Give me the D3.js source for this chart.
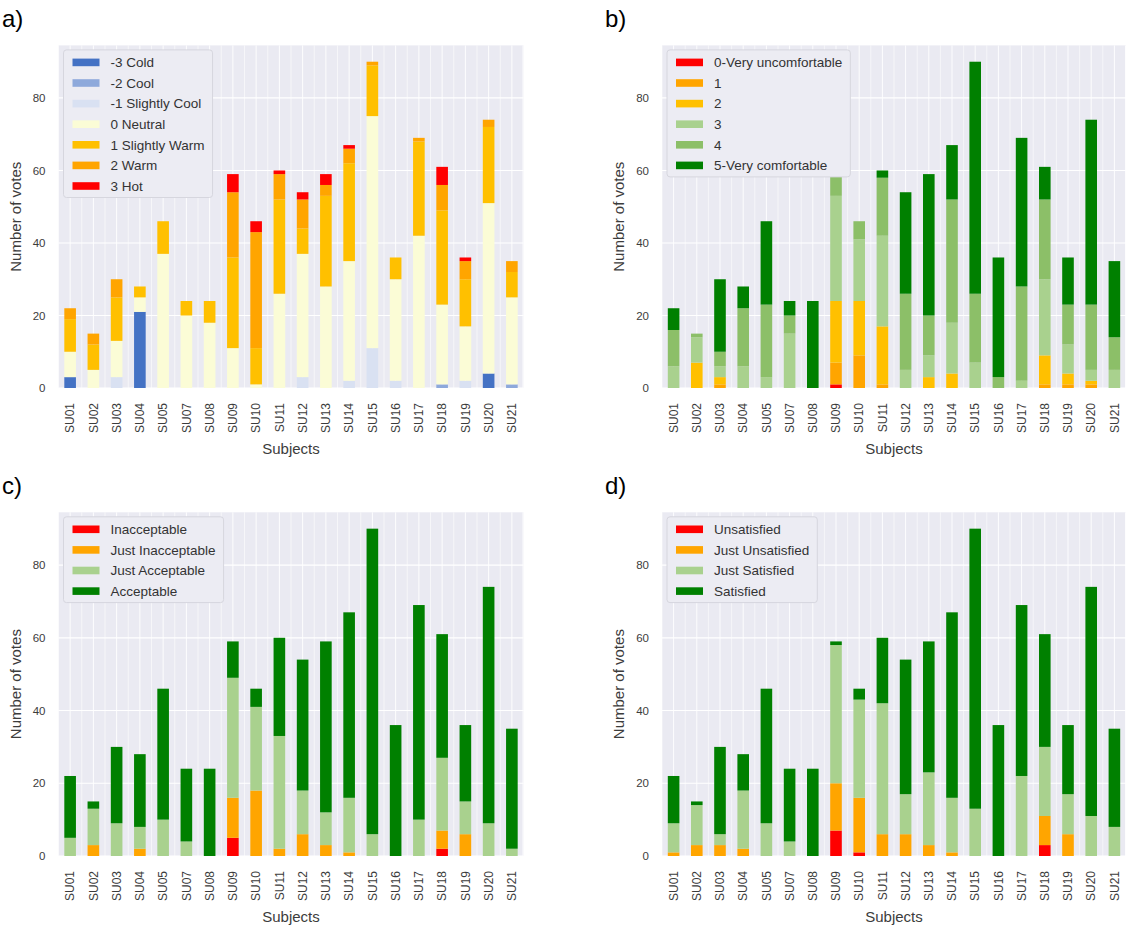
<!DOCTYPE html>
<html>
<head>
<meta charset="utf-8">
<script src="https://cdn.jsdelivr.net/npm/d3@7"></script>
<style>
  body { margin: 0; background: #fff; }
  text { font-family: "Liberation Sans", Arial, sans-serif; }
</style>
</head>
<body>
<svg id="fig" width="1126" height="927"></svg>
<script>
// ---- data ----
const subjects = ["SU01","SU02","SU03","SU04","SU05","SU07","SU08","SU09","SU10","SU11",
                  "SU12","SU13","SU14","SU15","SU16","SU17","SU18","SU19","SU20","SU21"];
const yTicks = [0, 20, 40, 60, 80];

// a) thermal sensation votes
const tsCold      = [3,0,0,21,0,0,0,0,0,0, 0,0,0,0,0,0,0,0,4,0];
const tsCool      = [0,0,0,0,0,0,0,0,0,0, 0,0,0,0,0,0,1,0,0,1];
const tsSlCool    = [0,0,3,0,0,0,0,0,0,0, 3,0,2,11,2,0,0,2,0,0];
const tsNeutral   = [7,5,10,4,37,20,18,11,1,26, 34,28,33,64,28,42,22,15,47,24];
const tsSlWarm    = [9,7,12,3,9,4,6,25,10,26, 7,25,27,14,6,26,26,13,21,7];
const tsWarm      = [3,3,5,0,0,0,0,18,32,7, 8,3,4,1,0,1,7,5,2,3];
const tsHot       = [0,0,0,0,0,0,0,5,3,1, 2,3,1,0,0,0,5,1,0,0];
const tsLabels    = ["-3 Cold","-2 Cool","-1 Slightly Cool","0 Neutral","1 Slightly Warm","2 Warm","3 Hot"];

// b) thermal comfort votes
const tc0 = [0,0,0,0,0,0,0,1,0,0, 0,0,0,0,0,0,0,0,0,0];
const tc1 = [0,0,1,0,0,0,0,6,9,1, 0,0,0,0,0,0,1,1,1,0];
const tc2 = [0,7,2,0,0,0,0,17,15,16, 0,3,4,0,0,0,8,3,1,0];
const tc3 = [6,7,3,6,3,15,0,29,17,25, 5,6,14,7,0,2,21,8,3,5];
const tc4 = [10,1,4,16,20,5,0,6,5,16, 21,11,34,19,3,26,22,11,18,9];
const tc5 = [6,0,20,6,23,4,24,0,0,2, 28,39,15,64,33,41,9,13,51,21];
const tcLabels = ["0-Very uncomfortable","1","2","3","4","5-Very comfortable"];

// c) thermal acceptability votes
const taInacc     = [0,0,0,0,0,0,0,5,0,0, 0,0,0,0,0,0,2,0,0,0];
const taJustInacc = [0,3,0,2,0,0,0,11,18,2, 6,3,1,0,0,0,5,6,0,0];
const taJustAcc   = [5,10,9,6,10,4,0,33,23,31, 12,9,15,6,0,10,20,9,9,2];
const taAcc       = [17,2,21,20,36,20,24,10,5,27, 36,47,51,84,36,59,34,21,65,33];
const taLabels = ["Inacceptable","Just Inacceptable","Just Acceptable","Acceptable"];

// d) thermal satisfaction votes
const tsatUns     = [0,0,0,0,0,0,0,7,1,0, 0,0,0,0,0,0,3,0,0,0];
const tsatJustUns = [1,3,3,2,0,0,0,13,15,6, 6,3,1,0,0,0,8,6,0,0];
const tsatJustSat = [8,11,3,16,9,4,0,38,27,36, 11,20,15,13,0,22,19,11,11,8];
const tsatSat     = [13,1,24,10,37,20,24,1,3,18, 37,36,51,77,36,47,31,19,63,27];
const tsatLabels = ["Unsatisfied","Just Unsatisfied","Just Satisfied","Satisfied"];

// ---- colours ----
const tsColors   = ["#4472C4","#8EA9DB","#D9E1F2","#FBFCD6","#FFC000","#FFA500","#FF0000"];
const tcColors   = ["#FF0000","#FFA500","#FFC000","#A9D18E","#8CBF68","#008000"];
const fourColors = ["#FF0000","#FFA500","#A9D18E","#008000"];

const panels = [
  { tag: "a)", series: [tsCold,tsCool,tsSlCool,tsNeutral,tsSlWarm,tsWarm,tsHot],
    labels: tsLabels, colors: tsColors, left: 58.5, right: 523.5, top: 45.4, bottom: 388 },
  { tag: "b)", series: [tc0,tc1,tc2,tc3,tc4,tc5],
    labels: tcLabels, colors: tcColors, left: 662, right: 1126, top: 45.4, bottom: 388 },
  { tag: "c)", series: [taInacc,taJustInacc,taJustAcc,taAcc],
    labels: taLabels, colors: fourColors, left: 58.5, right: 523.5, top: 512.3, bottom: 856 },
  { tag: "d)", series: [tsatUns,tsatJustUns,tsatJustSat,tsatSat],
    labels: tsatLabels, colors: fourColors, left: 662, right: 1126, top: 512.3, bottom: 856 }
];

const svg = d3.select("#fig");

function drawPanel(p) {
  const g = svg.append("g");

  // rows for d3.stack
  const keys = p.labels;
  const rows = subjects.map((s, i) => {
    const r = { subject: s };
    keys.forEach((k, j) => r[k] = p.series[j][i]);
    return r;
  });
  const stacked = d3.stack().keys(keys)(rows);
  const maxTotal = d3.max(rows, r => d3.sum(keys, k => r[k]));

  const x = d3.scaleBand().domain(subjects).range([p.left, p.right])
              .paddingInner(0.5).paddingOuter(0.25);
  const y = d3.scaleLinear().domain([0, maxTotal * 1.05]).range([p.bottom, p.top]);

  // background
  g.append("rect")
    .attr("x", p.left).attr("y", p.top)
    .attr("width", p.right - p.left).attr("height", p.bottom - p.top)
    .attr("fill", "#EAEAF2");

  // grid
  const step = x.step();
  const half = [];
  subjects.forEach(s => { half.push(x(s) + x.bandwidth() / 2); half.push(x(s) - step * 0.25); });
  half.push(p.right - 0.5);
  g.selectAll(".vgrid").data(half).enter().append("line")
    .attr("x1", d => d).attr("x2", d => d)
    .attr("y1", p.top).attr("y2", p.bottom)
    .attr("stroke", "#fff").attr("stroke-width", 1)
    .attr("stroke-opacity", (d, i) => i % 2 === 0 ? 0.9 : 0.55);
  g.selectAll(".hgrid").data(yTicks).enter().append("line")
    .attr("x1", p.left).attr("x2", p.right)
    .attr("y1", d => y(d)).attr("y2", d => y(d))
    .attr("stroke", "#fff").attr("stroke-width", 1.2);

  // bars
  stacked.forEach((layer, j) => {
    g.append("g").attr("fill", p.colors[j])
      .selectAll("rect").data(layer.filter(d => d[1] - d[0] > 0)).enter().append("rect")
      .attr("x", d => x(d.data.subject))
      .attr("width", x.bandwidth())
      .attr("y", d => y(d[1]))
      .attr("height", d => y(d[0]) - y(d[1]));
  });

  // y axis
  const ya = g.append("g").attr("transform", `translate(${p.left},0)`)
    .call(d3.axisLeft(y).tickValues(yTicks).tickSize(0).tickPadding(13));
  ya.select(".domain").remove();
  ya.selectAll("text").attr("font-size", "11.5px").attr("fill", "#3c3c3c")
    .attr("font-family", '"Liberation Sans", Arial, sans-serif');

  // x axis
  const xa = g.append("g").attr("transform", `translate(0,${p.bottom})`)
    .call(d3.axisBottom(x).tickSize(0));
  xa.select(".domain").remove();
  xa.selectAll("text")
    .attr("transform", "rotate(-90)")
    .attr("x", -15).attr("y", 0).attr("dy", "0.35em")
    .attr("text-anchor", "end")
    .attr("font-size", "12px").attr("fill", "#3c3c3c")
    .attr("font-family", '"Liberation Sans", Arial, sans-serif');

  // axis titles
  g.append("text")
    .attr("transform", `translate(${p.left - 38},${(p.top + p.bottom) / 2}) rotate(-90)`)
    .attr("text-anchor", "middle").attr("font-size", "15px").attr("fill", "#3c3c3c")
    .text("Number of votes");
  g.append("text")
    .attr("x", (p.left + p.right) / 2).attr("y", p.bottom + 66)
    .attr("text-anchor", "middle").attr("font-size", "15px").attr("fill", "#3c3c3c")
    .text("Subjects");

  // panel tag
  g.append("text")
    .attr("x", p.left < 100 ? 2 : 605).attr("y", p.top - 18)
    .attr("font-family", '"Liberation Serif", "Times New Roman", serif')
    .attr("font-size", "24px").attr("fill", "#000")
    .text(p.tag);

  // legend
  const lx = p.left + 5, ly = p.top + 4.5, pitch = 20.6;
  const lg = g.append("g");
  const box = lg.append("rect").attr("x", lx).attr("y", ly).attr("rx", 3)
    .attr("fill", "#ECECF3").attr("stroke", "#d6d6de").attr("stroke-width", 1);
  let maxW = 0;
  keys.forEach((k, j) => {
    const cy = ly + 12.5 + j * pitch;
    lg.append("rect").attr("x", lx + 9).attr("y", cy - 3.8)
      .attr("width", 27).attr("height", 7.6).attr("fill", p.colors[j]);
    const t = lg.append("text").attr("x", lx + 47).attr("y", cy).attr("dy", "0.35em")
      .attr("font-size", "13.5px").attr("fill", "#333").text(k);
    maxW = Math.max(maxW, t.node().getComputedTextLength());
  });
  box.attr("width", 47 + maxW + 8).attr("height", 12.5 + (keys.length - 1) * pitch + 11.5);
}

panels.forEach(drawPanel);
</script>
</body>
</html>
